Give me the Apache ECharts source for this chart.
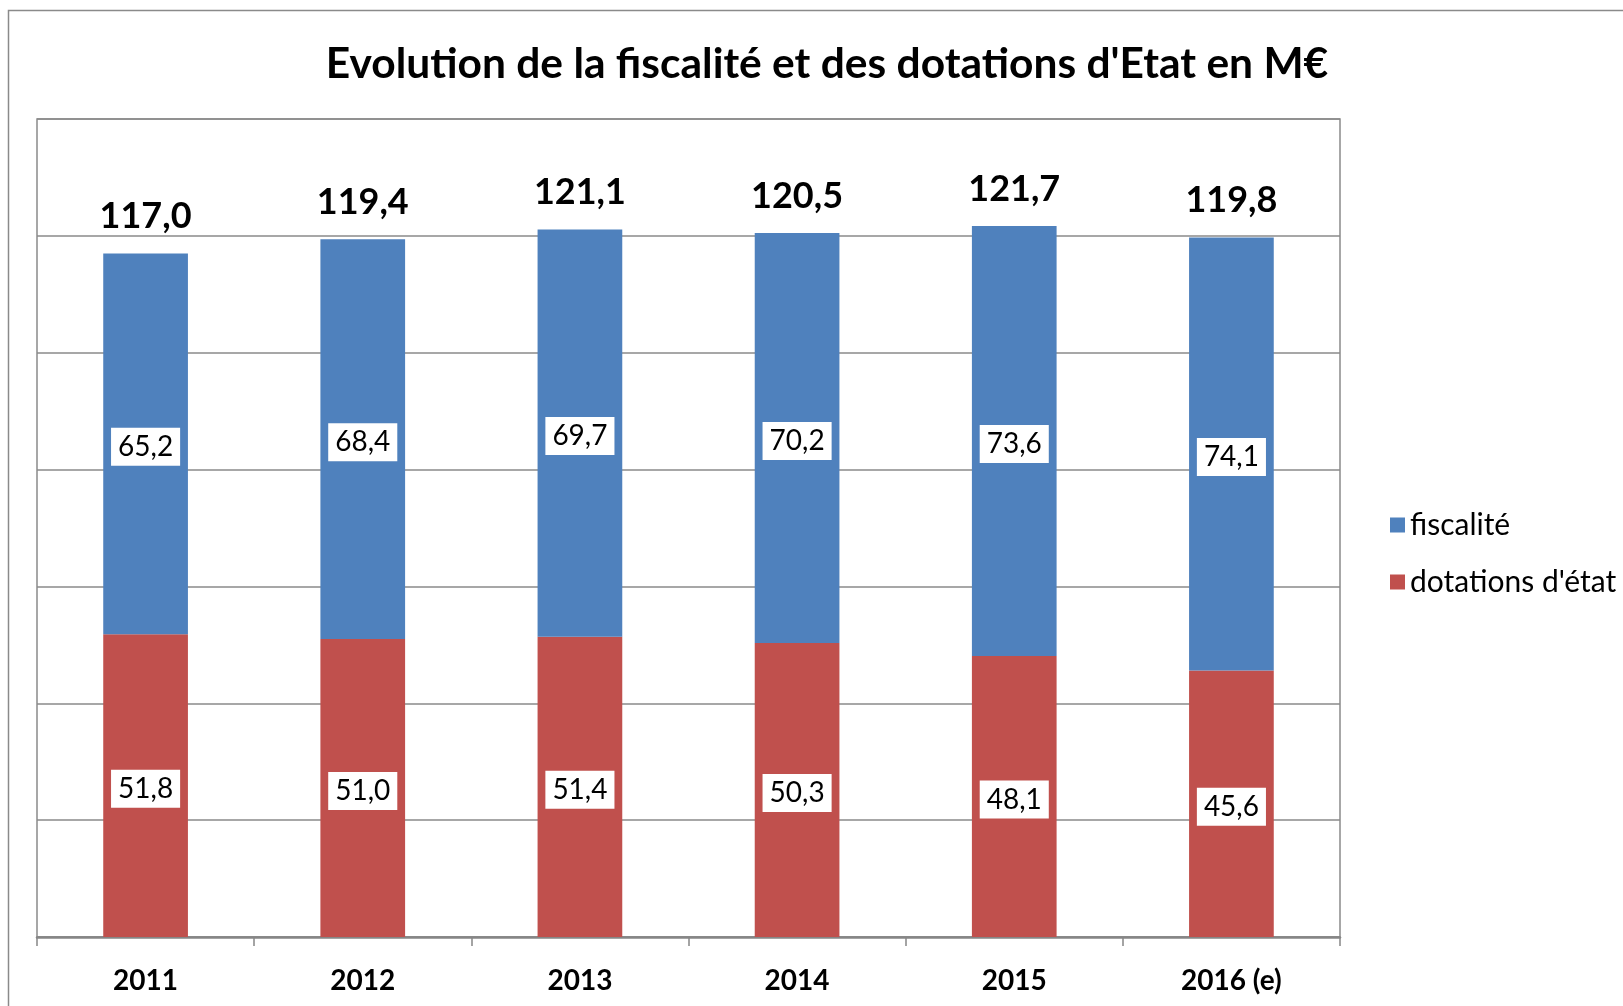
<!DOCTYPE html>
<html>
<head>
<meta charset="utf-8">
<script src="https://cdn.jsdelivr.net/npm/echarts@6/dist/echarts.min.js"></script>
<style>
  html, body { margin: 0; padding: 0; background: #fff; }
  #chart { width: 1623px; height: 1006px; }
</style>
</head>
<body>
<div id="chart"></div>
<script>
const years = ['2011', '2012', '2013', '2014', '2015', '2016 (e)'];
const fiscalite = [65.2, 68.4, 69.7, 70.2, 73.6, 74.1];
const dotations = [51.8, 51.0, 51.4, 50.3, 48.1, 45.6];
const totals = [117.0, 119.4, 121.1, 120.5, 121.7, 119.8];

const fmt = v => v.toFixed(1).replace('.', ',');
const font = 'Lato, "Open Sans", sans-serif';

const innerLabel = {
  show: true,
  position: 'inside',
  offset: [0, 3],
  formatter: p => fmt(p.value),
  color: '#000',
  fontFamily: font,
  fontSize: 28,
  backgroundColor: '#fff',
  padding: [6, 7, 4, 7]
};

const chart = echarts.init(document.getElementById('chart'));
chart.setOption({
  animation: false,
  backgroundColor: '#fff',
  title: {
    text: "Evolution de la fiscalité et des dotations d'Etat en M€",
    left: 822,
    textAlign: 'center',
    top: 38,
    textStyle: { fontFamily: font, fontWeight: 'bold', fontSize: 42.5, color: '#000' }
  },
  graphic: [{
    type: 'rect',
    shape: { x: 8.5, y: 10.5, width: 1700, height: 1100 },
    style: { fill: 'none', stroke: '#8a8a8a', lineWidth: 1.5 },
    silent: true
  }],
  legend: {
    orient: 'vertical',
    left: 1385,
    top: 505,
    data: ['fiscalité', "dotations d'état"],
    itemWidth: 15,
    itemHeight: 15,
    itemGap: 27,
    icon: 'rect',
    textStyle: { fontFamily: font, fontSize: 30, color: '#000', lineHeight: 30 }
  },
  grid: {
    left: 37, top: 119, width: 1303, height: 818,
    show: true, borderColor: '#8a8a8a', borderWidth: 1.5,
    containLabel: false
  },
  xAxis: {
    type: 'category',
    data: years,
    axisLine: { lineStyle: { color: '#868686', width: 2.5 } },
    axisTick: { show: true, length: 9, lineStyle: { color: '#868686', width: 1.5 } },
    axisLabel: { color: '#000', fontFamily: font, fontWeight: 'bold', fontSize: 28, margin: 30 }
  },
  yAxis: {
    type: 'value',
    min: 0, max: 140, interval: 20,
    axisLabel: { show: false },
    axisLine: { show: false },
    axisTick: { show: false },
    splitLine: { lineStyle: { color: '#8a8a8a', width: 1.5 } }
  },
  series: [
    {
      name: "dotations d'état",
      type: 'bar',
      stack: 'tot',
      data: dotations,
      barWidth: '39%',
      itemStyle: { color: '#C0504D' },
      label: innerLabel
    },
    {
      name: 'fiscalité',
      type: 'bar',
      stack: 'tot',
      data: fiscalite,
      barWidth: '39%',
      itemStyle: { color: '#4F81BD' },
      label: innerLabel
    },
    {
      name: 'total',
      type: 'bar',
      data: totals,
      barWidth: '39%',
      barGap: '-100%',
      silent: true,
      z: 1,
      itemStyle: { color: 'rgba(0,0,0,0)' },
      label: {
        show: true,
        position: 'top',
        distance: 19,
        formatter: p => fmt(p.value),
        color: '#000',
        fontFamily: font,
        fontWeight: 'bold',
        fontSize: 36
      }
    }
  ]
});
</script>
</body>
</html>
